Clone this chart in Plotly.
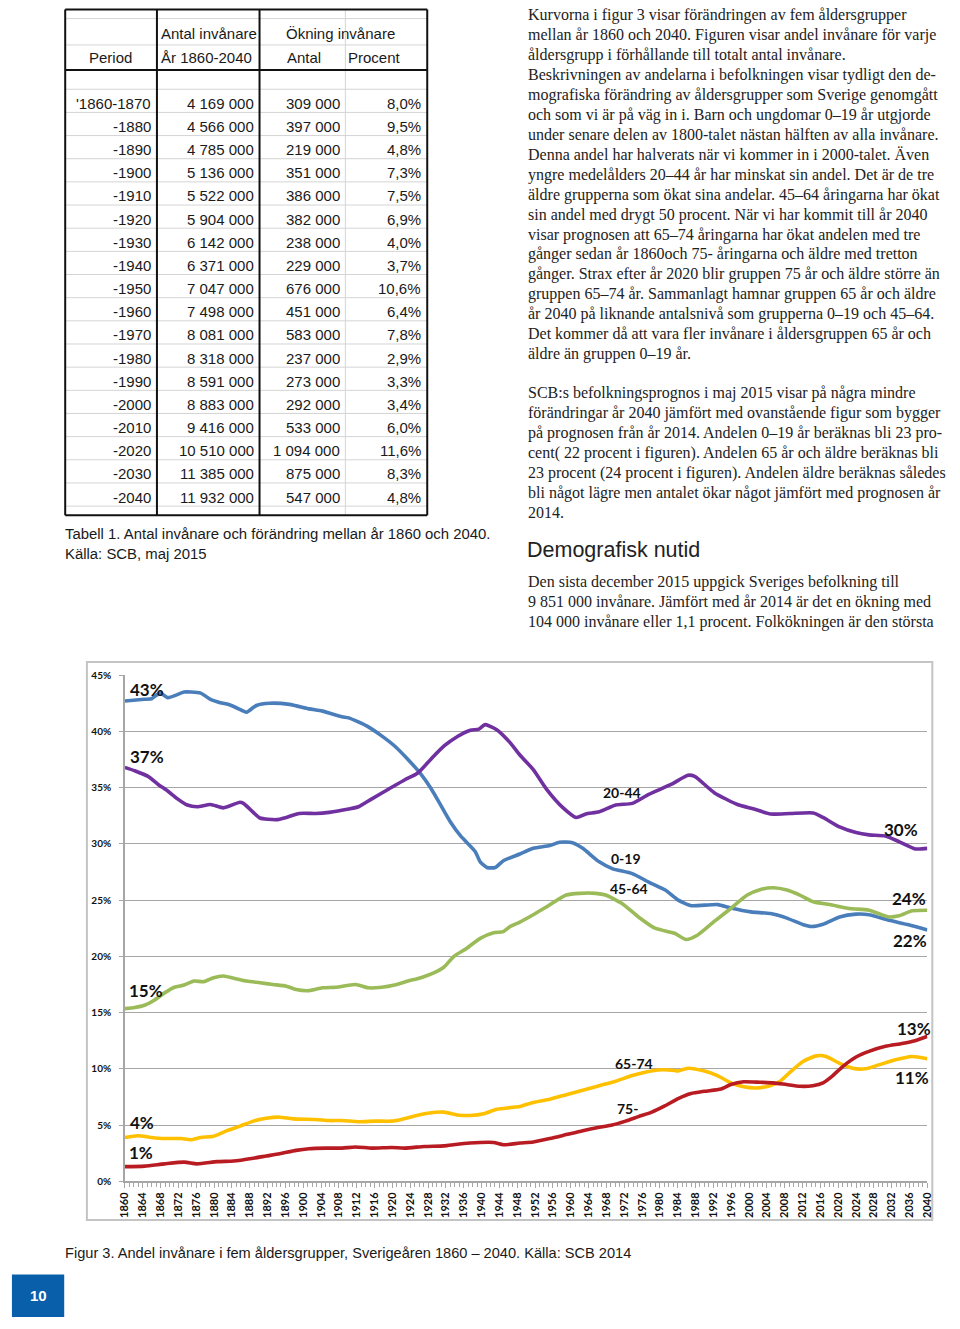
import plotly.graph_objects as go

W, H = 960, 1329

# ---------------- Table data ----------------
periods = ["'1860-1870", "-1880", "-1890", "-1900", "-1910", "-1920", "-1930", "-1940", "-1950",
           "-1960", "-1970", "-1980", "-1990", "-2000", "-2010", "-2020", "-2030", "-2040"]
population = [4169000, 4566000, 4785000, 5136000, 5522000, 5904000, 6142000, 6371000, 7047000,
              7498000, 8081000, 8318000, 8591000, 8883000, 9416000, 10510000, 11385000, 11932000]
increase = [309000, 397000, 219000, 351000, 386000, 382000, 238000, 229000, 676000,
            451000, 583000, 237000, 273000, 292000, 533000, 1094000, 875000, 547000]
percent = [8.0, 9.5, 4.8, 7.3, 7.5, 6.9, 4.0, 3.7, 10.6, 6.4, 7.8, 2.9, 3.3, 3.4, 6.0, 11.6, 8.3, 4.8]

# ---------------- Chart data (share of population, %) ----------------
yr_0_19 = [1860, 1864.4, 1866, 1867, 1868, 1869.6, 1873.3, 1874.8, 1877, 1879.2, 1881.4, 1883.6, 1886.6,
           1887.3, 1889.5, 1892.5, 1896.9, 1901.3, 1904.3, 1908.7, 1910.2, 1914.6, 1917.6, 1920.5, 1923.5,
           1926.4, 1928.7, 1930.9, 1933.1, 1935.3, 1938.6, 1939.7, 1941.2, 1943.1, 1944.9, 1948.6, 1951.6,
           1955.3, 1957.5, 1960.4, 1962.7, 1966.4, 1969.3, 1973.8, 1977.5, 1981.2, 1984.1, 1987.1, 1990,
           1993, 1995.9, 2000.4, 2004.8, 2008.5, 2012.2, 2014, 2016.6, 2020.3, 2024, 2026.9, 2031.4,
           2035.8, 2040]
v_0_19 = [42.7, 42.85, 42.9, 43.2, 43.4, 43.0, 43.5, 43.5, 43.4, 42.85, 42.55, 42.35, 41.8,
          41.7, 42.3, 42.5, 42.4, 42.0, 41.8, 41.3, 41.2, 40.4, 39.6, 38.7, 37.5,
          36.2, 34.9, 33.4, 31.9, 30.7, 29.3, 28.4, 27.9, 27.9, 28.5, 29.1, 29.6,
          29.85, 30.15, 30.1, 29.6, 28.4, 27.8, 27.35, 26.6, 25.9, 25.0, 24.5, 24.55,
          24.6, 24.3, 23.95, 23.8, 23.4, 22.8, 22.65, 22.85, 23.5, 23.75, 23.7, 23.2,
          22.8, 22.35]

yr_20_44 = [1860, 1862.2, 1865.2, 1867.4, 1869.6, 1871.8, 1874, 1876.2, 1879.2, 1882.1, 1885.8, 1886.6,
            1888.8, 1890.3, 1894, 1896.2, 1899.1, 1902.8, 1905.8, 1910.2, 1912.4, 1915.4, 1919.1, 1922.8,
            1925.7, 1928.7, 1931.6, 1934.6, 1937.5, 1939.4, 1940.8, 1943.4, 1946.4, 1948.6, 1951.6, 1954.6,
            1958.3, 1961.2, 1963.4, 1966.4, 1970.1, 1973.8, 1977.5, 1982.6, 1986.3, 1987.8, 1992.2, 1997.4,
            2001.1, 2004.8, 2009.2, 2014.4, 2016.6, 2020.3, 2024, 2026.9, 2030.6, 2033.6, 2037.3, 2040]
v_20_44 = [36.8, 36.5, 36.0, 35.3, 34.7, 34.0, 33.45, 33.3, 33.5, 33.2, 33.7, 33.6,
           32.8, 32.3, 32.15, 32.35, 32.7, 32.7, 32.8, 33.1, 33.3, 34.0, 34.85, 35.7,
           36.3, 37.55, 38.7, 39.55, 40.1, 40.2, 40.6, 40.15, 39.0, 37.9, 36.6, 34.85,
           33.2, 32.35, 32.65, 32.85, 33.45, 33.6, 34.4, 35.3, 36.1, 36.0, 34.55, 33.5,
           33.1, 32.65, 32.7, 32.75, 32.35, 31.5, 31.0, 30.8, 30.7, 30.2, 29.55, 29.6]

yr_45_64 = [1860, 1862.2, 1864.4, 1866.6, 1868.9, 1871.1, 1873.3, 1875.5, 1877.7, 1879.9, 1882.1, 1884.4,
            1887.3, 1890.3, 1893.2, 1896.2, 1898.4, 1901.3, 1904.3, 1907.3, 1911.7, 1914.6, 1917.6, 1920.5,
            1923.5, 1926.4, 1929.4, 1931.6, 1933.8, 1936.8, 1939.7, 1942.7, 1944.9, 1946.4, 1948.6, 1951.6,
            1954.6, 1959, 1962, 1965.6, 1967.8, 1971.5, 1975.2, 1978.9, 1983.3, 1985.9, 1988.5, 1992.2,
            1995.9, 1999.6, 2002.6, 2005.5, 2008.5, 2011.4, 2014.4, 2018.1, 2022.5, 2026.9, 2031.4, 2033.6,
            2036.6, 2040]
v_45_64 = [15.35, 15.45, 15.65, 16.1, 16.75, 17.25, 17.45, 17.8, 17.75, 18.1, 18.25, 18.05,
           17.8, 17.65, 17.5, 17.35, 17.05, 16.95, 17.2, 17.25, 17.5, 17.2, 17.25, 17.45,
           17.8, 18.1, 18.55, 19.05, 20.0, 20.75, 21.6, 22.1, 22.2, 22.65, 23.05, 23.7,
           24.4, 25.45, 25.6, 25.6, 25.45, 24.7, 23.5, 22.5, 22.05, 21.5, 21.9, 23.1,
           24.25, 25.45, 25.95, 26.1, 25.9, 25.45, 24.85, 24.6, 24.25, 24.1, 23.5, 23.6,
           24.05, 24.1]

yr_65_74 = [1860, 1863, 1865.9, 1868.9, 1872.6, 1874.8, 1877, 1879.9, 1882.9, 1885.8, 1888.8, 1891.7,
            1894.7, 1897.7, 1902.8, 1905.8, 1908.7, 1912.4, 1916.1, 1919.8, 1922, 1925, 1927.9, 1931.6,
            1934.6, 1937.5, 1940.5, 1943.4, 1946.4, 1948.6, 1951.6, 1955.3, 1959, 1962.7, 1966.4, 1970.1,
            1973.8, 1976.7, 1979.6, 1983.3, 1984, 1986.3, 1990, 1992.9, 1995.9, 1998.8, 2001.8, 2004.7,
            2007, 2009.2, 2012.1, 2015.1, 2017.3, 2020.2, 2023.2, 2026.1, 2029.1, 2032.8, 2036.5, 2040]
v_65_74 = [3.9, 4.05, 3.9, 3.8, 3.8, 3.7, 3.9, 4.0, 4.5, 4.9, 5.35, 5.6,
           5.7, 5.55, 5.5, 5.4, 5.4, 5.3, 5.35, 5.35, 5.5, 5.8, 6.05, 6.15,
           5.9, 5.85, 6.0, 6.4, 6.55, 6.65, 7.0, 7.3, 7.7, 8.1, 8.5, 8.9,
           9.4, 9.7, 9.9, 9.85, 9.8, 10.05, 9.8, 9.4, 8.75, 8.4, 8.3, 8.5,
           8.9, 9.7, 10.65, 11.15, 11.1, 10.5, 10.05, 10.0, 10.35, 10.8, 11.1, 10.9]

yr_75 = [1860, 1864.4, 1868.9, 1873.3, 1876.2, 1880.7, 1884.4, 1888.8, 1891.7, 1894.7, 1898.4, 1901.3,
         1905, 1908.7, 1911.7, 1915.4, 1919.8, 1922.8, 1927.2, 1931.6, 1934.6, 1939.7, 1942.7, 1944.9,
         1948.6, 1951.6, 1955.3, 1959, 1962.7, 1966.4, 1969.3, 1972.3, 1975.2, 1978.2, 1981.1, 1984.1,
         1987, 1990, 1993.7, 1995.9, 1998.8, 2002.5, 2005.5, 2008.4, 2011.4, 2014.3, 2016.6, 2018.8,
         2021, 2024, 2026.9, 2030.6, 2034.3, 2037.2, 2040]
v_75 = [1.3, 1.35, 1.55, 1.7, 1.55, 1.75, 1.8, 2.05, 2.25, 2.45, 2.75, 2.9,
        2.95, 2.95, 3.05, 2.95, 3.0, 2.95, 3.1, 3.15, 3.3, 3.45, 3.45, 3.25,
        3.4, 3.5, 3.8, 4.15, 4.5, 4.8, 5.0, 5.35, 5.75, 6.15, 6.7, 7.35,
        7.8, 8.0, 8.2, 8.6, 8.85, 8.8, 8.75, 8.6, 8.45, 8.5, 8.75, 9.4,
        10.2, 11.05, 11.55, 12.0, 12.25, 12.5, 12.9]

x_ticks = list(range(1860, 2041, 4))
y_ticks = [0, 5, 10, 15, 20, 25, 30, 35, 40, 45]

series = [
    ("0-19", yr_0_19, v_0_19, "#4A7EBB"),
    ("20-44", yr_20_44, v_20_44, "#7030A0"),
    ("45-64", yr_45_64, v_45_64, "#9BBB59"),
    ("65-74", yr_65_74, v_65_74, "#FFC000"),
    ("75-", yr_75, v_75, "#B81C22"),
]

# text labels on the chart (text, year, value, xanchor, size)
chart_labels = [
    ("43%", 1860.7, 43.7, "left", 17), ("37%", 1860.7, 37.8, "left", 17),
    ("15%", 1860.5, 17.0, "left", 17), ("4%", 1860.7, 5.2, "left", 17),
    ("1%", 1860.5, 2.55, "left", 17),
    ("20-44", 1971.4, 34.6, "center", 14), ("0-19", 1972.3, 28.7, "center", 14),
    ("45-64", 1973.0, 26.0, "center", 14), ("65-74", 1974.1, 10.5, "center", 14),
    ("75-", 1972.8, 6.5, "center", 14),
    ("30%", 2034.1, 31.3, "center", 17), ("24%", 2035.9, 25.1, "center", 17),
    ("22%", 2036.0, 21.4, "center", 17), ("13%", 2037.0, 13.6, "center", 17),
    ("11%", 2036.6, 9.2, "center", 17),
]

body_lines_1 = [
    "Kurvorna i figur 3 visar förändringen av fem åldersgrupper",
    "mellan år 1860 och 2040. Figuren visar andel invånare för varje",
    "åldersgrupp i förhållande till totalt antal invånare.",
    "Beskrivningen av andelarna i befolkningen visar tydligt den de-",
    "mografiska förändring av åldersgrupper som Sverige genomgått",
    "och som vi är på väg in i. Barn och ungdomar 0–19 år utgjorde",
    "under senare delen av 1800-talet nästan hälften av alla invånare.",
    "Denna andel har halverats när vi kommer in i 2000-talet. Även",
    "yngre medelålders 20–44 år har minskat sin andel. Det är de tre",
    "äldre grupperna som ökat sina andelar. 45–64 åringarna har ökat",
    "sin andel med drygt 50 procent. När vi har kommit till år 2040",
    "visar prognosen att 65–74 åringarna har ökat andelen med tre",
    "gånger sedan år 1860och 75- åringarna och äldre med tretton",
    "gånger. Strax efter år 2020 blir gruppen 75 år och äldre större än",
    "gruppen 65–74 år. Sammanlagt hamnar gruppen 65 år och äldre",
    "år 2040 på liknande antalsnivå som grupperna 0–19 och 45–64.",
    "Det kommer då att vara fler invånare i åldersgruppen 65 år och",
    "äldre än gruppen 0–19 år.",
]
body_lines_2 = [
    "SCB:s befolkningsprognos i maj 2015 visar på några mindre",
    "förändringar år 2040 jämfört med ovanstående figur som bygger",
    "på prognosen från år 2014. Andelen 0–19 år beräknas bli 23 pro-",
    "cent( 22 procent i figuren). Andelen 65 år och äldre beräknas bli",
    "23 procent (24 procent i figuren). Andelen äldre beräknas således",
    "bli något lägre men antalet ökar något jämfört med prognosen år",
    "2014.",
]
heading = "Demografisk nutid"
body_lines_3 = [
    "Den sista december 2015 uppgick Sveriges befolkning till",
    "9 851 000 invånare. Jämfört med år 2014 är det en ökning med",
    "104 000 invånare eller 1,1 procent. Folkökningen är den största",
]

# ---------------- helpers (page pixels -> paper fractions) ----------------
def px(x):
    return x / W


def py(y):
    return 1 - y / H


annotations = []
shapes = []


def text(s, x, y, size, family, color="#1a1a1a", anchor="left", weight="normal"):
    annotations.append(dict(text=s, x=px(x), y=py(y), xref="paper", yref="paper",
                            xanchor=anchor, yanchor="middle", showarrow=False,
                            font=dict(size=size, family=family, color=color, weight=weight)))


def line(x0, y0, x1, y1, color, width):
    shapes.append(dict(type="line", xref="paper", yref="paper", x0=px(x0), y0=py(y0),
                       x1=px(x1), y1=py(y1), line=dict(color=color, width=width)))


def fmt_int(v):
    return f"{v:,}".replace(",", " ")


def fmt_pct(v):
    return f"{v:.1f}".replace(".", ",") + "%"


# ---------------- table drawing ----------------
TBL_L, TBL_R, TBL_T, TBL_B = 59, 426, 3.5, 514
ROW_H = 23.37
FIRST_LINE = 84.0
light = "#D4D4D4"
for yy in [12.7, 39.3] + [FIRST_LINE + ROW_H * k for k in range(len(periods) + 1)]:
    line(TBL_L, yy, TBL_R, yy, light, 1)
line(343, TBL_T, 343, TBL_B, light, 1)
for xx in [TBL_L, 152, 256, TBL_R]:
    line(xx, TBL_T, xx, TBL_B, "#111111", 2)
for yy in [TBL_T, 64.5, TBL_B]:
    line(TBL_L, yy, TBL_R, yy, "#111111", 2)

TF = "Liberation Sans, Arial, sans-serif"
text("Antal invånare", 154.5, 28, 15, TF)
text("År 1860-2040", 154.5, 51.5, 15, TF)
text("Period", 105, 51.5, 15, TF, anchor="center")
text("Ökning invånare", 338, 28, 15, TF, anchor="center")
text("Antal", 301, 51.5, 15, TF, anchor="center")
text("Procent", 373, 51.5, 15, TF, anchor="center")
for i in range(len(periods)):
    yy = FIRST_LINE + ROW_H * i + 14.2
    text(periods[i], 147.5, yy, 15, TF, anchor="right")
    text(fmt_int(population[i]), 252, yy, 15, TF, anchor="right")
    text(fmt_int(increase[i]), 339.5, yy, 15, TF, anchor="right")
    text(fmt_pct(percent[i]), 422, yy, 15, TF, anchor="right")

CF = "Liberation Sans, Arial, sans-serif"
text("Tabell 1. Antal invånare och förändring mellan år 1860 och 2040.", 57, 533, 14.9, CF)
text("Källa: SCB, maj 2015", 57, 553, 14.9, CF)

# ---------------- right column text ----------------
SF = "Liberation Serif, Times New Roman, serif"
for i, s in enumerate(body_lines_1):
    text(s, 526, 9.5 + 20.1 * i, 16, SF, color="#222222")
for i, s in enumerate(body_lines_2):
    text(s, 526, 390.5 + 20.1 * i, 16, SF, color="#222222")
text(heading, 525, 549, 21.5, "Liberation Sans, Arial, sans-serif", color="#222222")
for i, s in enumerate(body_lines_3):
    text(s, 526, 581.5 + 20.1 * i, 16, SF, color="#222222")

# ---------------- chart ----------------
fig = go.Figure()
for name, xs, ys, col in series:
    fig.add_trace(go.Scatter(x=xs, y=ys, mode="lines", name=name,
                             line=dict(color=col, width=3.6, shape="spline", smoothing=0.6),
                             hoverinfo="x+y+name"))

LF = "Lato, Liberation Sans, sans-serif"
for s, xv, yv, anc, sz in chart_labels:
    annotations.append(dict(text=s, x=xv, y=yv, xref="x", yref="y", xanchor=anc,
                            yanchor="middle", showarrow=False,
                            font=dict(size=sz, family=LF, color="#111111", weight="bold")))

# chart frame
shapes.append(dict(type="rect", xref="paper", yref="paper", x0=px(81), y0=py(1225),
                   x1=px(938), y1=py(662), line=dict(color="#C4C4C4", width=2),
                   fillcolor="rgba(0,0,0,0)", layer="below"))

# figure caption and page number
text("Figur 3. Andel invånare i fem åldersgrupper, Sverigeåren 1860 – 2040. Källa: SCB 2014",
     57, 1258, 14.6, CF)
shapes.append(dict(type="rect", xref="paper", yref="paper", x0=px(5), y0=py(1323),
                   x1=px(58), y1=py(1280), line=dict(width=0), fillcolor="#0A5FAA"))
text("10", 31.5, 1301.5, 15, "Liberation Sans, Arial, sans-serif", color="white",
     anchor="center", weight="bold")

fig.update_layout(
    width=W, height=H, margin=dict(l=0, r=0, t=0, b=0),
    paper_bgcolor="white", plot_bgcolor="white", showlegend=False,
    annotations=annotations, shapes=shapes,
    xaxis=dict(domain=[px(119.5), px(933)], range=[1860, 2040], tickmode="array",
               tickvals=x_ticks, ticktext=[str(t) for t in x_ticks], tickangle=-90,
               tickfont=dict(family=LF, size=11, color="#111111", weight="bold"),
               showgrid=False, zeroline=False, showline=True, linecolor="#A6A6A6",
               linewidth=1.5, ticks="outside", ticklen=5, tickcolor="#A6A6A6",
               minor=dict(dtick=1, ticks="outside", ticklen=4, tickcolor="#A6A6A6",
                          showgrid=False)),
    yaxis=dict(domain=[py(1186), py(675)], range=[0, 45.02], tickmode="array",
               tickvals=y_ticks, ticktext=[f"{t}%" for t in y_ticks],
               tickfont=dict(family=LF, size=10, color="#111111", weight="bold"),
               showgrid=True, gridcolor="#A6A6A6", gridwidth=1.3, zeroline=False,
               showline=True, linecolor="#A6A6A6", linewidth=1.5, ticks="outside",
               ticklen=4, tickcolor="#A6A6A6", ticklabelstandoff=6),
)

fig.write_html("out.html", config={"displayModeBar": False},
               post_script="document.body.style.margin='0';document.body.style.overflow='hidden';"
                           "document.documentElement.style.overflow='hidden';")
